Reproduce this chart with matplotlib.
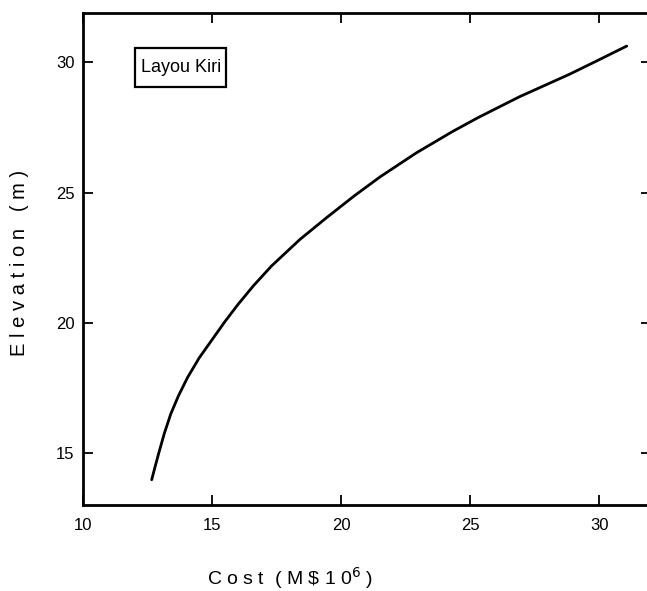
import matplotlib
matplotlib.use("Agg")
import matplotlib.pyplot as plt
from matplotlib.patches import Rectangle

cost = [12.66, 12.80, 12.95, 13.15, 13.40, 13.70, 14.05, 14.50, 15.00, 15.50,
        16.00, 16.60, 17.30, 18.40, 19.45, 20.50, 21.50, 22.90, 24.30, 25.30,
        26.90, 28.85, 29.90, 31.06]
elevation = [13.97, 14.50, 15.05, 15.75, 16.50, 17.20, 17.90, 18.65, 19.35, 20.05,
             20.70, 21.42, 22.18, 23.20, 24.05, 24.87, 25.60, 26.52, 27.34, 27.88,
             28.68, 29.55, 30.06, 30.63]
xticks = [10, 15, 20, 25, 30]
yticks = [15, 20, 25, 30]
label = "Layou Kiri"

plt.rcParams['font.family'] = ['Liberation Sans', 'DejaVu Sans']

fig = plt.figure(figsize=(6.47, 5.91), dpi=100)
W, H = 647, 591
ax = fig.add_axes([83 / W, 1 - 505 / H, (651 - 83) / W, (505 - 13) / H])

ax.plot(cost, elevation, color='black', lw=2.0, solid_capstyle='round',
        solid_joinstyle='round')
ax.set_xlim(10, 32)
ax.set_ylim(13, 31.9)
ax.set_xticks(xticks)
ax.set_yticks(yticks)
ax.set_xticklabels([str(t) for t in xticks], fontsize=12)
ax.set_yticklabels([str(t) for t in yticks], fontsize=12)
ax.tick_params(direction='in', length=7, width=1.3, top=True, right=True,
               labeltop=False, labelright=False, pad=9)
ax.tick_params(axis='y', pad=6)
for s in ax.spines.values():
    s.set_linewidth(2)

# label box
fig.patches.append(Rectangle((135 / W, 1 - 87 / H), (226 - 135) / W, (87 - 48) / H,
                             transform=fig.transFigure, fill=False,
                             ec='black', lw=1.6))
fig.text(141 / W, 1 - 67 / H, label, fontsize=13, va='center', ha='left')

fig.text(20 / W, 1 - 263 / H, "E l e v a t i o n   ( m )", rotation=90,
         fontsize=14.5, va='center', ha='center')
fig.text(290 / W, 1 - 578 / H, r"C o s t  ( M \$ 1 0$^{6}$ )",
         fontsize=14, va='center', ha='center')

fig.savefig("out.png", dpi=100, facecolor='white')
